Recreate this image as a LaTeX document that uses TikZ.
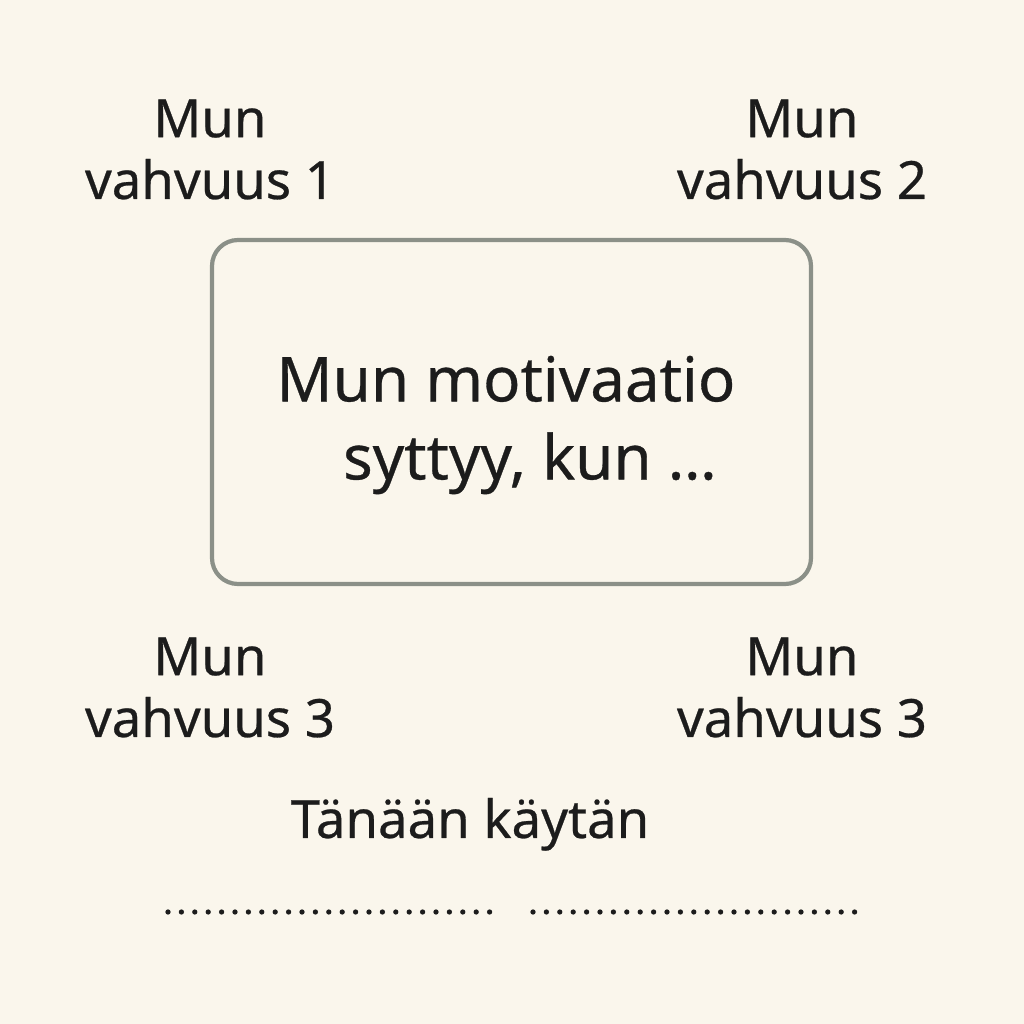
\documentclass[tikz,border=0pt]{standalone}
\usepackage{xcolor}
\usepackage{fontspec}
\setmainfont{Noto Sans}[FakeBold=0.5]
\usepackage{tikz}
\usetikzlibrary{positioning}

\definecolor{paper}{HTML}{FAF6EC}
\definecolor{frame}{HTML}{8B9088}
\definecolor{ink}{HTML}{1C1C1C}

\tikzset{
	strength/.style={text=ink, align=center, anchor=base, inner sep=0pt,
		font=\fontsize{15}{17.6}\selectfont},
	motivebox/.style={draw=frame, line width=1.2pt, rounded corners=0.26cm,
		minimum width=5.99cm, minimum height=3.44cm, inner sep=0pt},
	motivetext/.style={text=ink, align=center, inner sep=0pt,
		font=\fontsize{17.6}{22.2}\selectfont},
	dotline/.style={ink, line width=1.5pt, line cap=round,
		dash pattern=on 0pt off 0.134cm},
}

\begin{document}
	\begin{tikzpicture}
		\fill[paper] (0,0) rectangle (10.24,10.24);
		\useasboundingbox (0,0) rectangle (10.24,10.24);
		\node[motivebox] (box) at (5.115,6.12) {};
		\node[motivetext] (motive) at (5.06,5.99) {Mun motivaatio\\\hspace*{13.6pt}syttyy, kun \dots};
		\node[strength] (s1) at (2.10,8.25) {Mun\\vahvuus 1};
		\node[strength] (s2) at (8.02,8.25) {Mun\\vahvuus 2};
		\node[strength] (s3) at (2.10,2.87) {Mun\\vahvuus 3};
		\node[strength] (s4) at (8.02,2.87) {Mun\\vahvuus 3};
		\node[strength] (today) at (4.70,1.86) {Tänään käytän};
		\coordinate (d1a) at (1.68,1.12);
		\coordinate (d1b) at (4.90,1.12);
		\coordinate (d2a) at (5.33,1.12);
		\coordinate (d2b) at (8.55,1.12);
		\draw[dotline] (d1a) -- (d1b);
		\draw[dotline] (d2a) -- (d2b);
	\end{tikzpicture}
\end{document}
